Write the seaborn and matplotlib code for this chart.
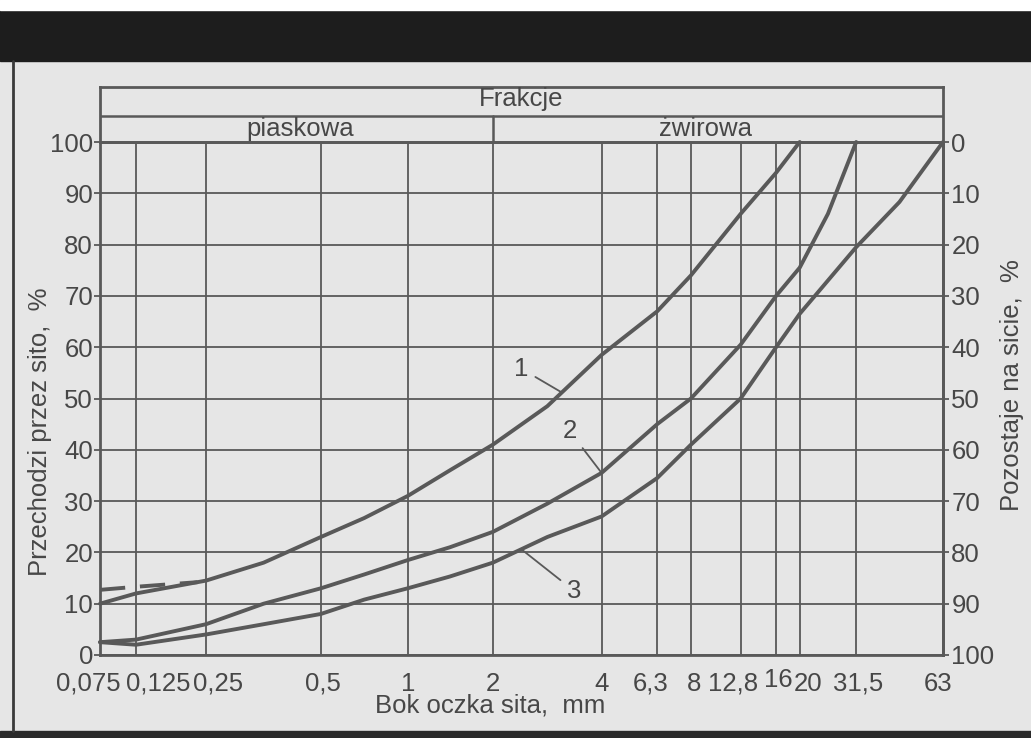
import matplotlib.pyplot as plt
import numpy as np
import pandas as pd
import seaborn as sns
from matplotlib.lines import Line2D
from matplotlib.patches import Rectangle
from matplotlib.transforms import ScaledTranslation

# sieve sizes (mm) and where their grid lines sit along the axis (chart is drawn on an irregular log-like scale)
sieve_mm = [0.075, 0.125, 0.25, 0.5, 1, 2, 4, 6.3, 8, 12.8, 16, 20, 31.5, 63]
sieve_labels = ["0,075", "0,125", "0,25", "0,5", "1", "2", "4", "6,3", "8",
                "12,8", "16", "20", "31,5", "63"]
line_frac = [0, 0.0427, 0.1257, 0.262, 0.365, 0.466, 0.595, 0.661, 0.701,
             0.760, 0.802, 0.830, 0.897, 1.0]

# grading curves, % passing
curve1_mm = [0.075, 0.125, 0.25, 0.354, 0.5, 0.707, 1, 1.41, 2, 2.83, 4, 6.3, 8, 12.8, 16, 20]
curve1_pct = [10, 12, 14.5, 18, 23, 26.7, 31, 36, 41, 48.5, 58.5, 67, 74, 86, 94, 100]

curve2_mm = [0.075, 0.125, 0.25, 0.354, 0.5, 0.707, 1, 1.41, 2, 2.83, 4, 6.3, 8, 12.8, 16, 20, 25.1, 31.5]
curve2_pct = [2.5, 3, 6, 10, 13, 15.7, 18.5, 21, 24, 29.5, 35.5, 45, 50, 60.5, 70, 75.5, 86, 100]

curve3_mm = [0.075, 0.125, 0.25, 0.354, 0.5, 0.707, 1, 1.41, 2, 2.83, 4, 6.3, 8, 12.8, 16, 20, 31.5, 44.5, 63]
curve3_pct = [2.5, 2, 4, 6, 8, 10.8, 13, 15.3, 18, 23, 27, 34.5, 41, 50, 60, 66.5, 79.5, 88.3, 100]

dash_mm = [0.075, 0.125, 0.23]
dash_pct = [12.7, 13.3, 14.2]

# curve labels: (text, x mm, y %)
curve_tags = [("1", 3.1, 51.2), ("2", 4, 35.5), ("3", 2.4, 20.6)]
tag_offsets = [(-29, 17), (-23, 30), (38, -30)]

# nudges of the x tick labels in pixels (the original spreads crowded labels)
label_dx = [-12, 22, 12, 2, 0, 0, 0, -7, 3, -8, 2, 8, 2, -5]
label_dy = [0, 0, 0, 0, 0, 0, 0, 0, 0, 0, 4, 0, 0, 0]

ink = "#595959"
text_c = "#474747"
paper = "#e6e6e6"

sns.set_theme(style="white")
plt.rcParams["font.family"] = ["Liberation Sans", "DejaVu Sans"]
fs = 18.5

fig = plt.figure(figsize=(10.31, 7.38), dpi=100, facecolor=paper)

# scan edges
fig.patches.append(Rectangle((0, 1 - 61 / 738), 1, 51 / 738, transform=fig.transFigure,
                             color="#1d1d1d", zorder=0))
fig.patches.append(Rectangle((0, 1 - 10 / 738), 1, 10 / 738, transform=fig.transFigure,
                             color="white", zorder=0))
fig.patches.append(Rectangle((0, 0), 1, 7 / 738, transform=fig.transFigure,
                             color="#2a2a2a", zorder=0))
fig.add_artist(Line2D([13 / 1031, 13 / 1031], [7 / 738, 1 - 61 / 738], transform=fig.transFigure,
                      color="#3a3a3a", lw=2))

left, right = 100 / 1031, 943 / 1031
bottom, top = 1 - 655 / 738, 1 - 142 / 738
ax = fig.add_axes([left, bottom, right - left, top - bottom])
ax.set_facecolor("none")

logs = np.log(sieve_mm)


def forward(x):
    x = np.clip(np.asarray(x, dtype=float), 1e-6, None)
    return np.interp(np.log(x), logs, line_frac)


def inverse(f):
    return np.exp(np.interp(np.asarray(f, dtype=float), line_frac, logs))


ax.set_xscale("function", functions=(forward, inverse))

sns.lineplot(x=curve1_mm, y=curve1_pct, ax=ax, color=ink, lw=2.8, clip_on=False, zorder=4)
sns.lineplot(x=curve2_mm, y=curve2_pct, ax=ax, color=ink, lw=2.8, clip_on=False, zorder=4)
sns.lineplot(x=curve3_mm, y=curve3_pct, ax=ax, color=ink, lw=2.8, clip_on=False, zorder=4)
ax.plot(dash_mm, dash_pct, color=ink, lw=2.8, linestyle=(0, (6.5, 3.8)), zorder=4)

ax.set_xlim(sieve_mm[0], sieve_mm[-1])
ax.set_ylim(0, 100)
ax.set_xticks(sieve_mm)
ax.set_xticklabels(sieve_labels)
ax.set_yticks(range(0, 101, 10))
ax.set_xlabel("")
ax.set_ylabel("")
ax.grid(True, color=ink, lw=1.3)
ax.set_axisbelow(True)
for s in ax.spines.values():
    s.set_color(ink)
    s.set_linewidth(2)
ax.tick_params(axis="x", length=0, pad=12, labelsize=fs, labelcolor=text_c)
ax.tick_params(axis="y", left=True, length=4, width=1.3, color=ink, direction="out",
               pad=1, labelsize=fs, labelcolor=text_c)

for lbl, dx, dy in zip(ax.get_xticklabels(), label_dx, label_dy):
    lbl.set_transform(lbl.get_transform() + ScaledTranslation(dx / 100, dy / 100, fig.dpi_scale_trans))

sec = ax.secondary_yaxis("right", functions=(lambda y: 100 - y, lambda y: 100 - y))
sec.set_yticks(range(0, 101, 10))
sec.spines["right"].set_color(ink)
sec.spines["right"].set_linewidth(2)
sec.tick_params(axis="y", right=True, length=4, width=1.3, color=ink, direction="out",
                pad=2, labelsize=fs, labelcolor=text_c)

for (txt, xm, yp), (ox, oy) in zip(curve_tags, tag_offsets):
    ax.annotate(txt, xy=(xm, yp), xytext=(ox, oy), textcoords="offset points",
                ha="center", va="center", fontsize=fs, color=text_c,
                arrowprops=dict(arrowstyle="-", color=ink, lw=1.3, shrinkA=3, shrinkB=0))

# header with fractions
head_top = 1 - 87 / 738
hax = fig.add_axes([left, top, right - left, head_top - top], sharex=ax)
hax.set_facecolor("none")
hax.set_ylim(0, 1)
hax.tick_params(bottom=False, labelbottom=False, left=False, labelleft=False)
for s in hax.spines.values():
    s.set_color(ink)
    s.set_linewidth(2)
split = 0.473
hax.axhline(split, color=ink, lw=1.8)
hax.plot([2, 2], [0, split], color=ink, lw=1.8)
hax.text(0.5, 0.66, "Frakcje", transform=hax.transAxes, ha="center", va="baseline",
         fontsize=fs, color=text_c)
hax.text(0.237, 0.11, "piaskowa", transform=hax.transAxes, ha="center", va="baseline",
         fontsize=fs, color=text_c)
hax.text(0.718, 0.11, "żwirowa", transform=hax.transAxes, ha="center", va="baseline",
         fontsize=fs, color=text_c)

fig.text(40 / 1031, 1 - 432 / 738, "Przechodzi przez sito,  %", rotation=90,
         ha="center", va="center", fontsize=fs, color=text_c)
fig.text(1012 / 1031, 1 - 385 / 738, "Pozostaje na sicie,  %", rotation=90,
         ha="center", va="center", fontsize=fs, color=text_c)
fig.text(490 / 1031, 1 - 706 / 738, "Bok oczka sita,  mm", ha="center", va="center",
         fontsize=fs, color=text_c)

fig.savefig("out.png", dpi=100, facecolor=paper)
